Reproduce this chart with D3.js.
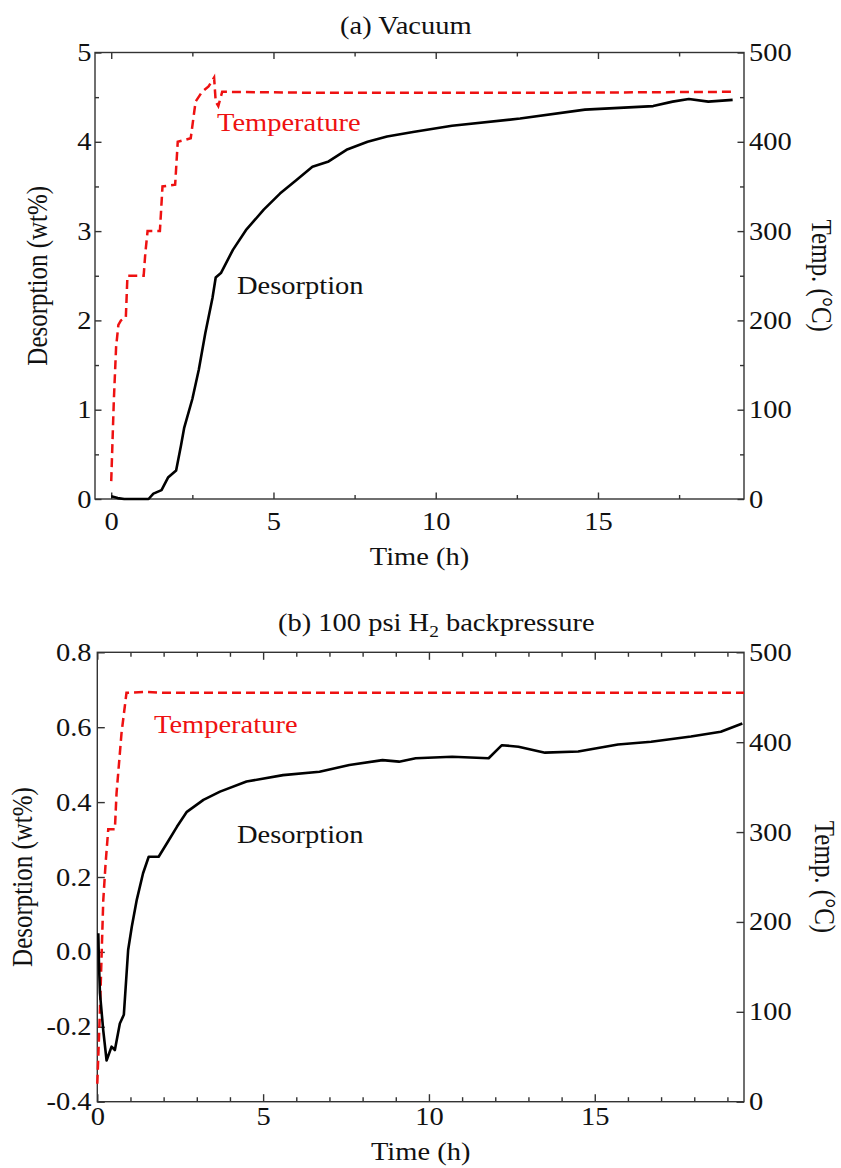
<!DOCTYPE html>
<html>
<head>
<meta charset="utf-8">
<script src="https://cdn.jsdelivr.net/npm/d3@7"></script>
<style>
  body { margin: 0; background: #fff; }
  svg text { font-family: "Liberation Serif", "Times New Roman", Times, serif; }
</style>
</head>
<body>
<svg id="chart"></svg>
<script>
// ---- (a) vacuum ----
const vacTime = [0, 0.2, 0.4, 1.15, 1.3, 1.55, 1.75, 2.0, 2.15, 2.25, 2.5, 2.7, 2.9, 3.12, 3.22, 3.38, 3.75, 4.15, 4.7, 5.2, 5.7, 6.2, 6.7, 7.25, 7.9, 8.5, 9.3, 10.5, 12.6, 14.6, 16.7, 17.3, 17.8, 18.4, 19.15];
const vacDesorption = [0.03, 0.01, 0, 0, 0.06, 0.1, 0.24, 0.32, 0.6, 0.8, 1.12, 1.45, 1.86, 2.25, 2.48, 2.53, 2.79, 3.01, 3.24, 3.42, 3.57, 3.72, 3.78, 3.91, 4.0, 4.06, 4.11, 4.18, 4.26, 4.36, 4.4, 4.45, 4.48, 4.45, 4.47];
const vacTempTime = [0, 0.08, 0.15, 0.22, 0.3, 0.45, 0.5, 1.0, 1.05, 1.12, 1.5, 1.58, 1.97, 2.05, 2.45, 2.6, 2.8, 3.0, 3.17, 3.22, 3.3, 3.42, 6, 10, 14, 19.2];
const vacTemp = [20, 110, 170, 195, 200, 203, 250, 250, 275, 300, 300, 350, 352, 400, 404, 445, 456, 462, 472, 445, 440, 456, 455, 455, 455, 456];

// ---- (b) 100 psi H2 backpressure ----
const bpTime = [0.03, 0.05, 0.08, 0.18, 0.28, 0.43, 0.53, 0.68, 0.8, 0.93, 1.04, 1.19, 1.38, 1.55, 1.85, 2.1, 2.4, 2.7, 3.2, 3.7, 4.5, 5.6, 6.7, 7.6, 8.6, 9.1, 9.6, 10.7, 11.8, 12.2, 12.7, 13.5, 14.5, 15.7, 16.7, 17.9, 18.8, 19.45];
const bpDesorption = [0.05, -0.03, -0.11, -0.21, -0.29, -0.253, -0.262, -0.191, -0.168, 0.005, 0.067, 0.139, 0.21, 0.254, 0.254, 0.29, 0.334, 0.374, 0.406, 0.428, 0.455, 0.472, 0.481, 0.499, 0.512, 0.508, 0.517, 0.521, 0.517, 0.552, 0.548, 0.532, 0.535, 0.554, 0.561, 0.575, 0.588, 0.61];
const bpTempTime = [0, 0.08, 0.18, 0.25, 0.33, 0.53, 0.58, 0.73, 0.83, 0.88, 1.5, 2.0, 8, 14, 19.5];
const bpTemp = [20, 102, 224, 265, 303, 303, 343, 410, 440, 455, 456, 455, 455, 455, 455];

// ---- ticks ----
const timeTicks = [0, 5, 10, 15];
const vacTimeMinor = [2.5, 7.5, 12.5, 17.5];
const bpTimeMinor = [1, 2, 3, 4, 6, 7, 8, 9, 11, 12, 13, 14, 16, 17, 18, 19];
const vacDesTicks = [0, 1, 2, 3, 4, 5];
const vacDesMinor = [0.5, 1.5, 2.5, 3.5, 4.5];
const bpDesTicks = [-0.4, -0.2, 0, 0.2, 0.4, 0.6, 0.8];
const bpDesLabels = ['-0.4', '-0.2', '0.0', '0.2', '0.4', '0.6', '0.8'];
const tempTicks = [0, 100, 200, 300, 400, 500];
const tempMinor = [50, 150, 250, 350, 450];

const FS = 25;
const SX = 1.14; // the reference's lettering is a little wide
const RED = '#ee1111';
const AXIS = '#333';

const svg = d3.select('#chart').attr('width', 841).attr('height', 1168);

function label(parent, x, y, txt, opts = {}) {
  const g = parent.append('g')
    .attr('transform', `translate(${x},${y}) scale(${SX},1) rotate(${opts.rotate || 0})`);
  return g.append('text')
    .attr('text-anchor', opts.anchor || 'start')
    .attr('font-size', opts.size || FS)
    .attr('fill', opts.color || '#111')
    .text(txt);
}

function addAxis(g, gen, pos, values, size, pad, fmt) {
  const a = gen.tickValues(values).tickSizeInner(size).tickSizeOuter(0).tickPadding(pad)
    .tickFormat(fmt || '');
  const ag = g.append('g').attr('transform', pos).call(a)
    .attr('font-family', null).attr('font-size', FS);
  ag.select('.domain').remove();
  ag.selectAll('line').attr('stroke', AXIS).attr('stroke-width', 1.4);
  ag.selectAll('text').attr('fill', '#111').attr('transform', `scale(${SX},1)`);
}

function drawPanel(cfg) {
  const g = svg.append('g');
  const x = d3.scaleLinear().domain(cfg.xDomain).range([cfg.left, cfg.right]);
  const y = d3.scaleLinear().domain(cfg.yDomain).range([cfg.bottom, cfg.top]);
  const y2 = d3.scaleLinear().domain([0, 500]).range([cfg.bottom, cfg.top]);

  // ticks, all pointing inward
  const bx = `translate(0,${cfg.bottom})`, tx = `translate(0,${cfg.top})`;
  const lx = `translate(${cfg.left},0)`, rx = `translate(${cfg.right},0)`;
  addAxis(g, d3.axisBottom(x), bx, cfg.xMinor, -cfg.minor, 0);
  addAxis(g, d3.axisBottom(x), bx, timeTicks, -cfg.major, cfg.xPad, d3.format('d'));
  addAxis(g, d3.axisTop(x), tx, cfg.xMinor, -cfg.minor, 0);
  addAxis(g, d3.axisTop(x), tx, timeTicks, -cfg.major, 0);
  if (cfg.yMinor.length) addAxis(g, d3.axisLeft(y), lx, cfg.yMinor, -cfg.minor, 0);
  addAxis(g, d3.axisLeft(y), lx, cfg.yTicks, -cfg.major, cfg.yPad, cfg.yFormat);
  if (cfg.tMinor.length) addAxis(g, d3.axisRight(y2), rx, cfg.tMinor, -cfg.minor, 0);
  addAxis(g, d3.axisRight(y2), rx, tempTicks, -cfg.major, 4.5, d3.format('d'));

  g.append('rect')
    .attr('x', cfg.left).attr('y', cfg.top)
    .attr('width', cfg.right - cfg.left).attr('height', cfg.bottom - cfg.top)
    .attr('fill', 'none').attr('stroke', AXIS).attr('stroke-width', 1.4);

  // temperature (right axis), dashed red
  g.append('path')
    .datum(d3.zip(cfg.tempTime, cfg.temp))
    .attr('fill', 'none').attr('stroke', RED).attr('stroke-width', 2.5)
    .attr('stroke-dasharray', '9,5')
    .attr('d', d3.line().x(d => x(d[0])).y(d => y2(d[1])));

  // desorption (left axis)
  g.append('path')
    .datum(d3.zip(cfg.time, cfg.des))
    .attr('fill', 'none').attr('stroke', '#000').attr('stroke-width', 2.6)
    .attr('stroke-linejoin', 'round')
    .attr('d', d3.line().x(d => x(d[0])).y(d => y(d[1])));

  // texts
  cfg.title(g);
  label(g, (cfg.left + cfg.right) / 2, cfg.xLabelY, 'Time (h)', {anchor: 'middle'});
  label(g, cfg.yLabelX, (cfg.top + cfg.bottom) / 2, 'Desorption (wt%)', {anchor: 'middle', rotate: -90});
  label(g, cfg.tLabelX, (cfg.top + cfg.bottom) / 2, 'Temp. (\u00B0C)', {anchor: 'middle', rotate: 90});
  label(g, cfg.tempNote[0], cfg.tempNote[1], 'Temperature', {color: RED});
  label(g, cfg.desNote[0], cfg.desNote[1], 'Desorption');
}

drawPanel({
  left: 95, right: 744, top: 52.5, bottom: 499,
  xDomain: [-0.5, 19.5], yDomain: [0, 5],
  xMinor: vacTimeMinor, yTicks: vacDesTicks, yMinor: vacDesMinor, tMinor: tempMinor,
  yFormat: d3.format('d'),
  major: 6.5, minor: 4, xPad: 13, yPad: 3,
  time: vacTime, des: vacDesorption, tempTime: vacTempTime, temp: vacTemp,
  xLabelY: 565, yLabelX: 47, tLabelX: 812,
  tempNote: [217, 131], desNote: [237, 294],
  title: g => label(g, 340, 34, '(a) Vacuum')
});

drawPanel({
  left: 97.3, right: 744, top: 652.3, bottom: 1101.7,
  xDomain: [0, 19.5], yDomain: [-0.4, 0.8],
  xMinor: bpTimeMinor, yTicks: bpDesTicks, yMinor: [], tMinor: [],
  yFormat: (d, i) => bpDesLabels[i],
  major: 7.5, minor: 4.5, xPad: 5.5, yPad: 5,
  time: bpTime, des: bpDesorption, tempTime: bpTempTime, temp: bpTemp,
  xLabelY: 1160, yLabelX: 32, tLabelX: 815,
  tempNote: [154, 733], desNote: [237, 843],
  title: g => {
    const t = label(g, 278, 631, '(b) 100 psi H');
    t.append('tspan').attr('font-size', 17).attr('dy', 6).text('2');
    t.append('tspan').attr('dy', -6).text(' backpressure');
  }
});
</script>
</body>
</html>
